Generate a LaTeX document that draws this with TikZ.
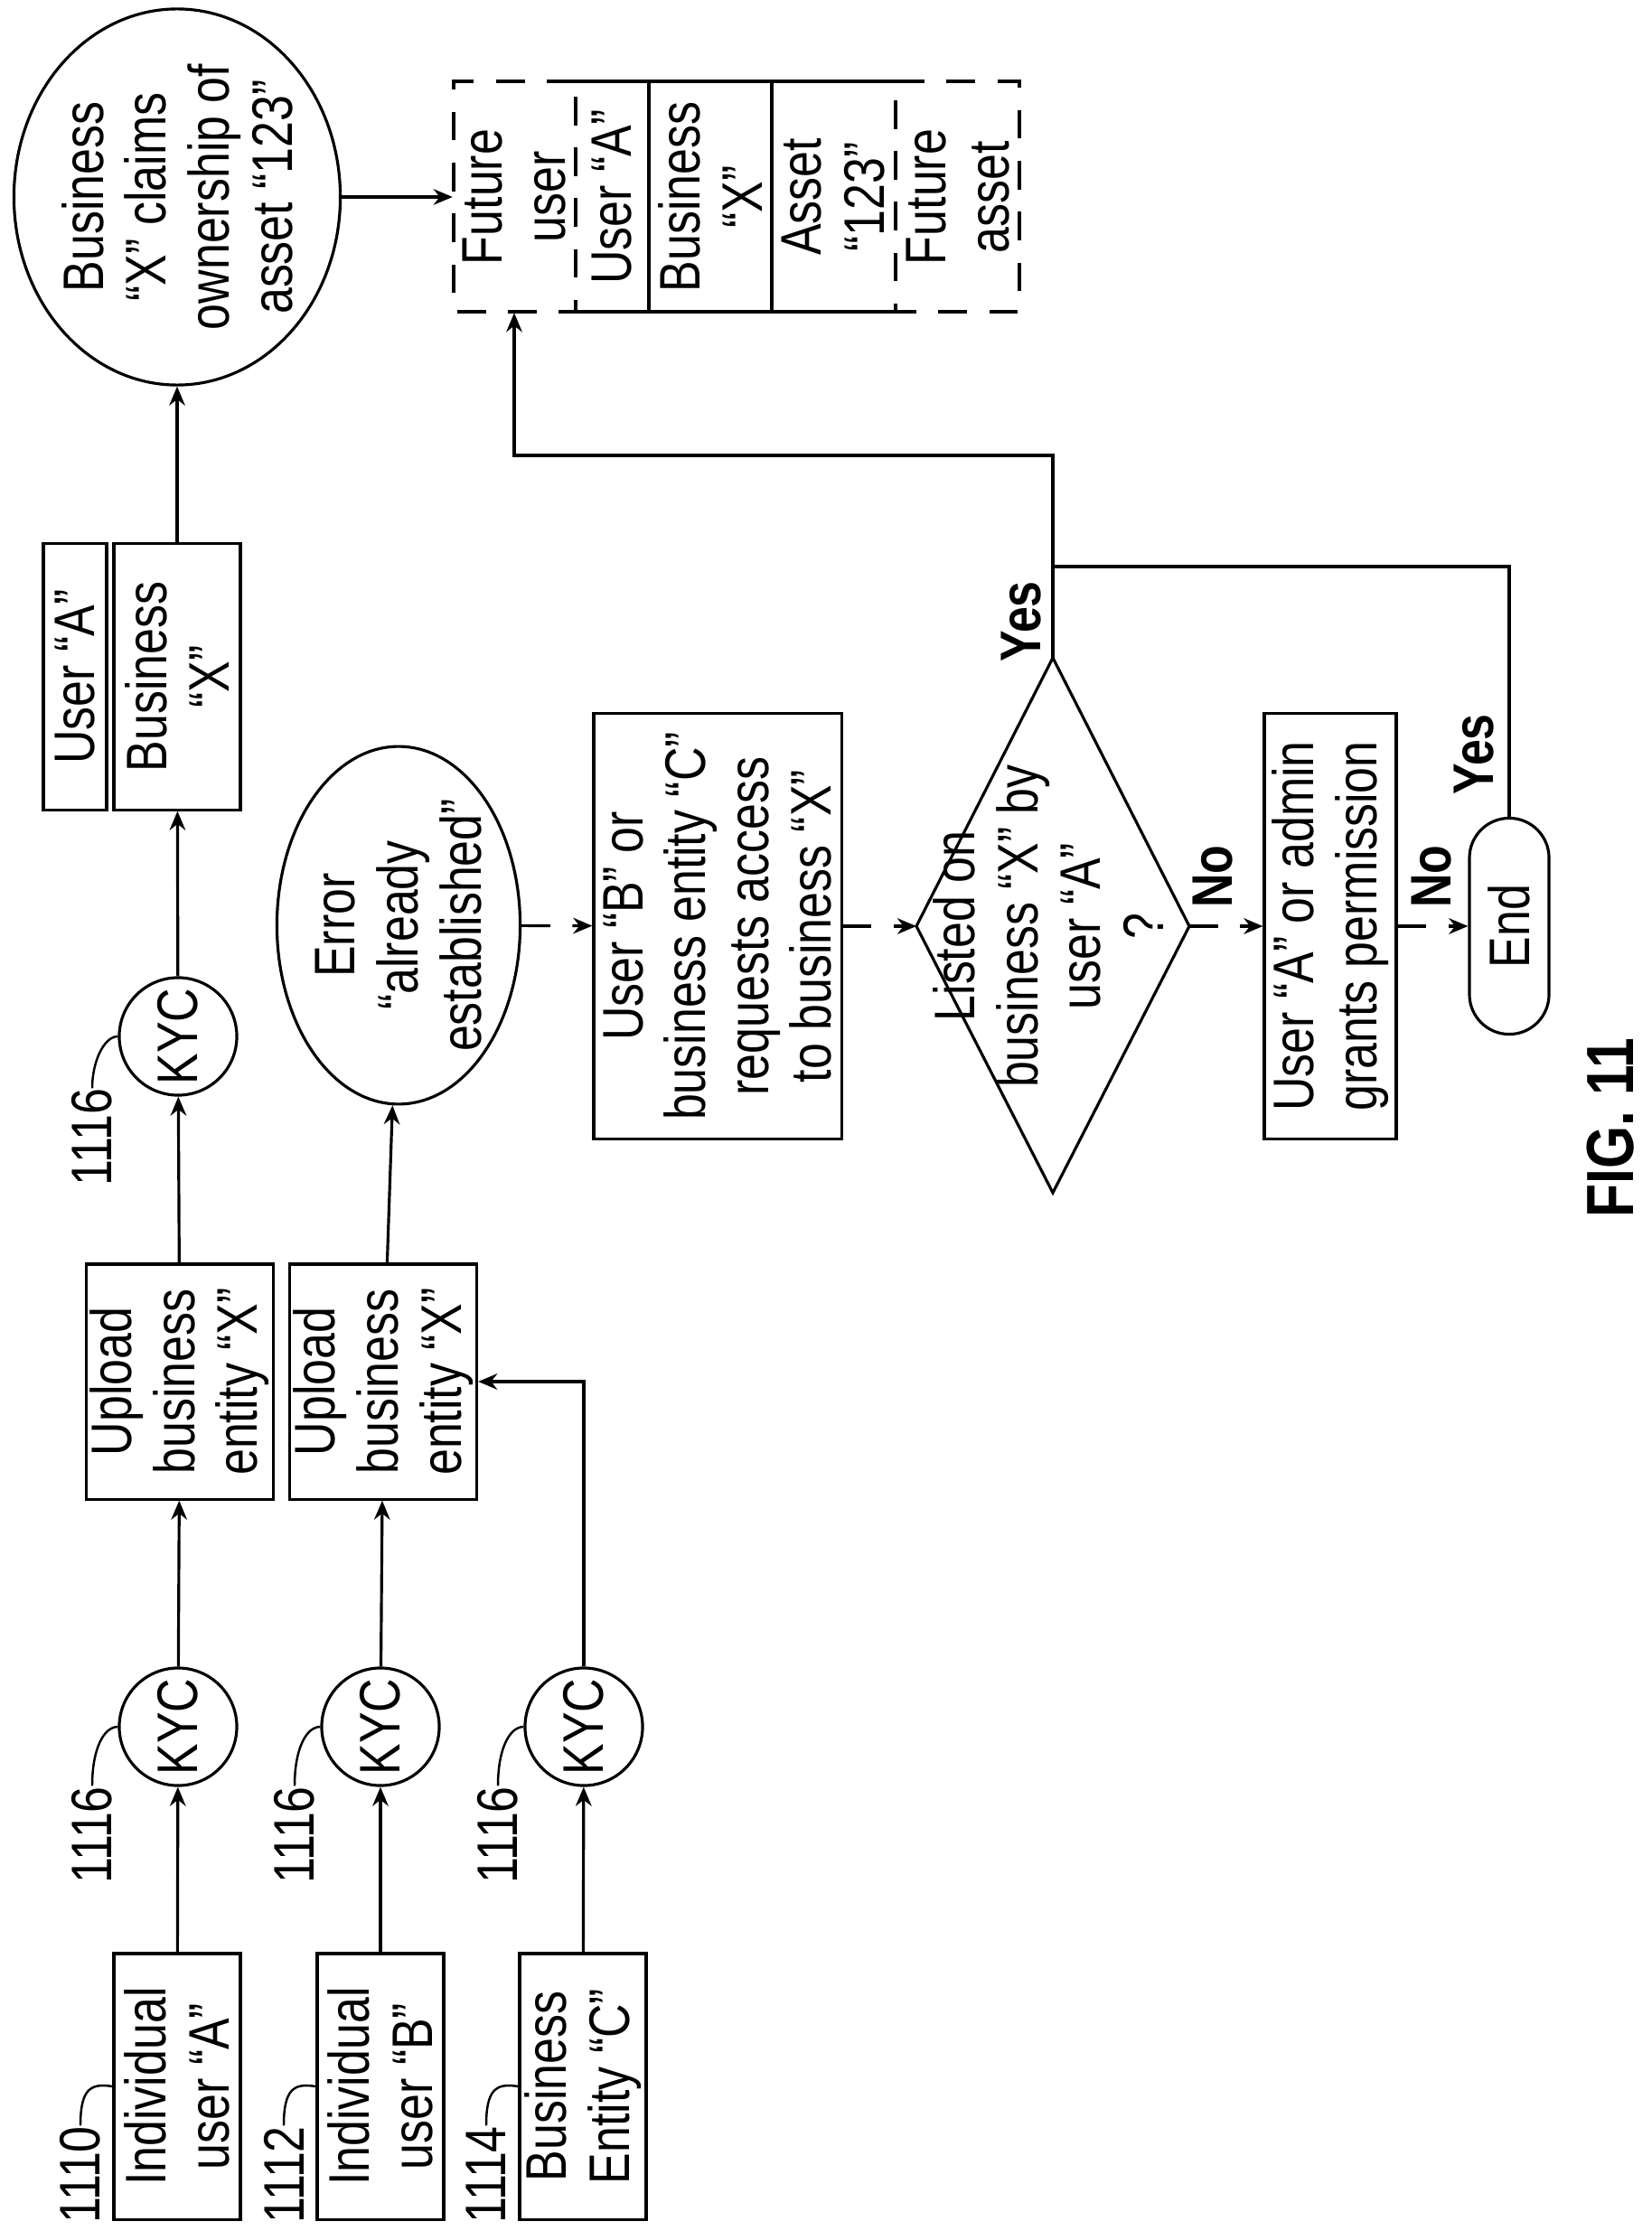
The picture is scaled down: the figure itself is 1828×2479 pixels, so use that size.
\documentclass[tikz,border=0pt]{standalone}
\usepackage{fontspec}
\setmainfont{Liberation Sans}[FakeStretch=0.82]
\usetikzlibrary{shapes.geometric,arrows.meta}
\tikzset{
  box/.style={draw, rotate=90, align=center, inner sep=0pt, line width=0.9pt},
  kyc/.style={draw, circle, rotate=90, inner sep=0pt, minimum size=1.3cm, line width=0.9pt},
  txt/.style={rotate=90, align=center, inner sep=0pt},
  ref/.style={rotate=90, inner sep=0pt},
  tag/.style={rotate=90, inner sep=0pt, font=\fontsize{18}{20}\selectfont\bfseries},
  flow/.style={line width=0.9pt, -{Stealth[length=6pt,width=5pt]}},
  dflow/.style={flow, dash pattern=on 9pt off 7pt},
  lead/.style={line width=0.7pt},
}
\begin{document}
\begin{tikzpicture}[x=0.01cm, y=-0.01cm, font=\fontsize{18}{19.8}\selectfont]
\useasboundingbox (0,0) rectangle (1828,2479);
% users and entities
\node[box, minimum width=2.94cm, minimum height=1.4cm] (ua) at (196,2309) {Individual\\user “A”};
\node[box, minimum width=2.94cm, minimum height=1.4cm] (ub) at (421,2309) {Individual\\user “B”};
\node[box, minimum width=2.94cm, minimum height=1.4cm] (uc) at (645,2309) {Business\\Entity “C”};
\node[ref] (l1) at (89,2407) {1110};
\node[ref] (l2) at (314,2407) {1112};
\node[ref] (l3) at (538,2407) {1114};
\path[draw,lead] (l1.east) .. controls (89,2312) and (100,2305) .. (ua.north);
\path[draw,lead] (l2.east) .. controls (314,2312) and (325,2305) .. (ub.north);
\path[draw,lead] (l3.east) .. controls (538,2312) and (549,2305) .. (uc.north);

% KYC checks
\node[kyc] (k1) at (197,1911) {KYC};
\node[kyc] (k2) at (421,1911) {KYC};
\node[kyc] (k3) at (646,1911) {KYC};
\node[kyc] (k4) at (197,1147) {KYC};
\node[ref] (r1) at (102,2031) {1116};
\node[ref] (r2) at (326,2031) {1116};
\node[ref] (r3) at (551,2031) {1116};
\node[ref] (r4) at (102,1259) {1116};
\path[draw,lead] (r1.east) .. controls (102,1935) and (115,1911) .. (k1.north);
\path[draw,lead] (r2.east) .. controls (326,1935) and (339,1911) .. (k2.north);
\path[draw,lead] (r3.east) .. controls (551,1935) and (564,1911) .. (k3.north);
\path[draw,lead] (r4.east) .. controls (102,1175) and (115,1147) .. (k4.north);

% upload
\node[box, minimum width=2.6cm, minimum height=2.07cm] (up1) at (199,1529) {Upload\\business\\entity “X”};
\node[box, minimum width=2.6cm, minimum height=2.07cm] (up2) at (424,1529) {Upload\\business\\entity “X”};
\node[draw, ellipse, rotate=90, align=center, inner sep=0pt, line width=0.9pt,
  minimum width=3.47cm, minimum height=2.69cm] (err) at (441,1024) {Error\\“already\\established”};

% business record
\node[box, minimum width=2.94cm, minimum height=0.7cm] (usr) at (83,749) {User “A”};
\node[box, minimum width=2.94cm, minimum height=1.4cm] (biz) at (196,749) {Business\\“X”};
\node[draw, ellipse, rotate=90, align=center, inner sep=0pt, line width=0.9pt,
  minimum width=3.94cm, minimum height=3.47cm] (claim) at (196,218) {Business\\“X” claims\\ownership of\\asset “123”};

% ledger
\node[txt, minimum width=2.55cm, minimum height=1.35cm] (fu) at (569,218) {Future\\user};
\node[txt] (ta) at (677,218) {User “A”};
\node[txt] (tb) at (786,218) {Business\\“X”};
\node[txt] (tc) at (922,218) {Asset\\“123”};
\node[txt] (fa) at (1060,218) {Future\\asset};
\draw[line width=0.9pt, dash pattern=on 9pt off 7pt] (637,90) -- (502,90) -- (502,345) -- (637,345) -- cycle;
\draw[line width=0.9pt, dash pattern=on 9pt off 7pt] (991,90) -- (1128,90) -- (1128,345) -- (991,345) -- cycle;
\draw[line width=0.9pt] (637,90) -- (991,90) (637,345) -- (991,345) (718,90) -- (718,345) (854,90) -- (854,345);

% request and decision
\node[box, minimum width=4.7cm, minimum height=2.74cm] (req) at (794,1025) {User “B” or\\business entity “C”\\requests access\\to business “X”};
\coordinate (dt) at (1165,728);
\coordinate (dr) at (1316,1025);
\coordinate (db) at (1165,1320);
\coordinate (dl) at (1014,1025);
\draw[line width=0.9pt] (dt) -- (dr) -- (db) -- (dl) -- cycle;
\node[txt] (dia) at (1160,1025) {Listed on\\business “X” by\\user “A”\\?};
\node[box, minimum width=4.71cm, minimum height=1.46cm] (perm) at (1472,1025) {User “A” or admin\\grants permission};
\node[draw, rotate=90, rounded corners=0.44cm, inner sep=0pt, line width=0.9pt,
  minimum width=2.39cm, minimum height=0.88cm] (end) at (1670,1025) {End};
\node[ref, font=\fontsize{21}{24}\selectfont\bfseries] (fig) at (1782,1248) {FIG. 11};

\coordinate (c1) at (1165,504);
\coordinate (c2) at (1165,627);

\path[draw,flow] (ua) -- (k1);
\path[draw,flow] (ub) -- (k2);
\path[draw,flow] (uc) -- (k3);
\path[draw,flow] (k1) -- (up1);
\path[draw,flow] (k2) -- (up2);
\path[draw,flow] (k3) |- (up2);
\path[draw,flow] (up1) -- (k4);
\path[draw,flow] (k4) -- (biz);
\path[draw,flow] (up2) -- (err);
\path[draw,flow] (biz) -- (claim);
\path[draw,flow] (claim) -- (fu);
\path[draw,dflow] (err) -- (req);
\path[draw,dflow] (req) -- (dl);
\path[draw,dflow] (dr) -- (perm);
\path[draw,dflow] (perm) -- (end);
\path[draw,flow] (dt) -- (c1) -| (fu);
\path[draw,line width=0.9pt] (end.east) |- (c2);
\node[tag] (no1) at (1342,970) {No};
\node[tag] (no2) at (1584,970) {No};
\node[tag] (yes1) at (1130,688) {Yes};
\node[tag] (yes2) at (1631,835) {Yes};
\end{tikzpicture}
\end{document}
